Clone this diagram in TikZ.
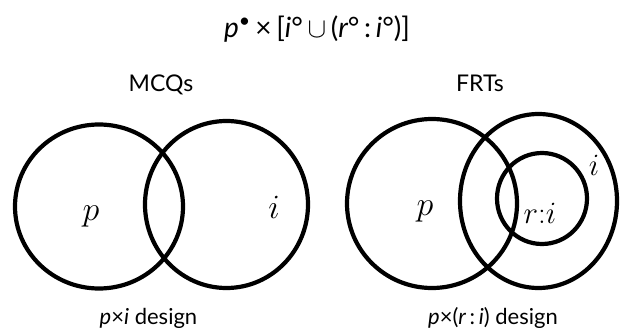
\RequirePackage{fix-cm}
\documentclass[tikz,border=0pt]{standalone}
\usepackage{fontspec}
\setmainfont{Lato}
\begin{document}
\begin{tikzpicture}[x=1pt,y=-1pt,
  ring/.style={line width=4.2pt, draw=black},
  head/.style={font=\fontsize{23}{27}\selectfont, anchor=base, inner sep=0pt},
  capt/.style={font=\fontsize{22}{26}\selectfont, anchor=base, inner sep=0pt},
  var/.style={font=\fontsize{34}{40}\selectfont, anchor=base, inner sep=0pt},
  small/.style={font=\fontsize{31}{36}\selectfont, anchor=base, inner sep=0pt}]
\useasboundingbox (0,0) rectangle (621,329);
% title formula
\node[font=\fontsize{28}{32}\selectfont, inner sep=0pt] (formula) at (317,29)
  {{\itshape p}\textsuperscript{\textbullet}\,×\,[{\itshape i}°\,$\cup$\,({\itshape r}°\,:\,{\itshape i}°)]};
% headings
\node[head] (mcq) at (161,92) {MCQs};
\node[head] (frt) at (480,92) {FRTs};
% left diagram
\draw[ring] (99,206.5) ellipse [x radius=84, y radius=82];
\draw[ring] (226.5,204.5) ellipse [x radius=81.5, y radius=83.5];
\node[var] (pL) at (91,220) {$p$};
\node[var] (iL) at (274,218) {$i$};
% right diagram
\draw[ring] (432,203.5) ellipse [x radius=85, y radius=84.5];
\draw[ring] (538.5,201) ellipse [x radius=78.5, y radius=87];
\draw[ring] (542,198.5) ellipse [x radius=45, y radius=45.5];
\node[var] (pR) at (425,215) {$p$};
\node[small] (ri) at (540,223) {$r{:}i$};
\node[small] (iR) at (594,175) {$i$};
% captions
\node[capt] (capL) at (148.5,324) {{\itshape p}×{\itshape i} design};
\node[capt] (capR) at (493,324) {{\itshape p}×({\itshape r}\,:\,{\itshape i}) design};
\end{tikzpicture}
\end{document}
